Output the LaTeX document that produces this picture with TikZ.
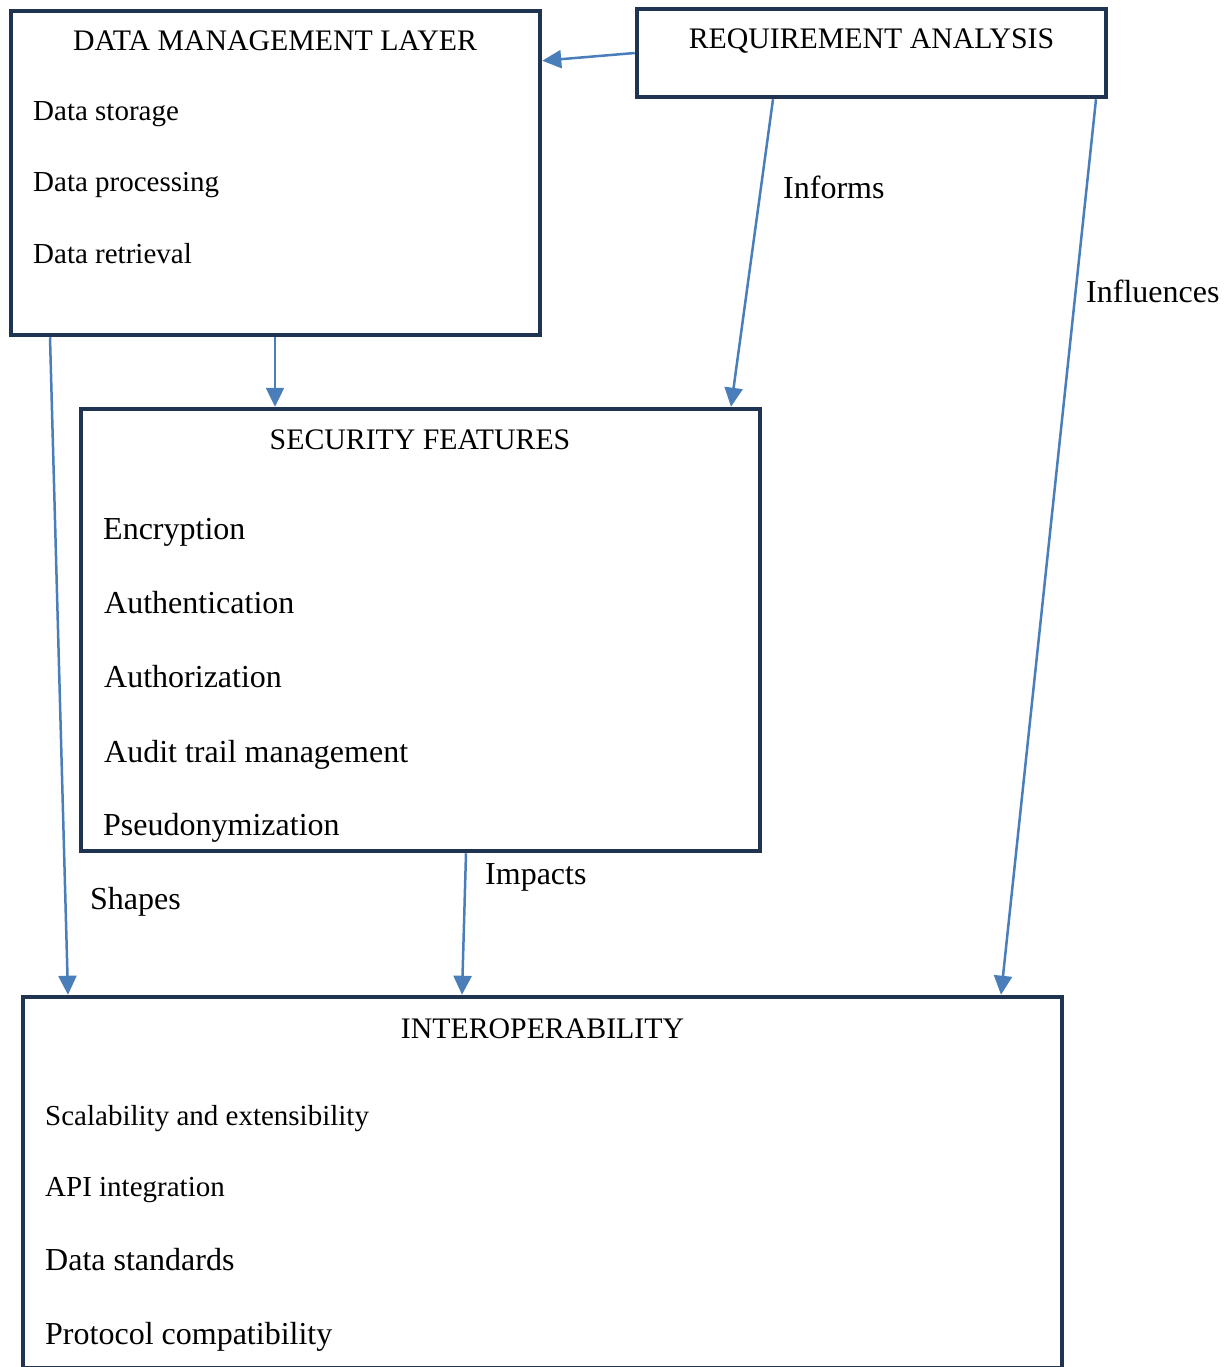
\documentclass[tikz,border=0pt]{standalone}
\usepackage{fontspec}
\setmainfont{Liberation Serif}
\usetikzlibrary{arrows.meta,calc}
\definecolor{boxline}{RGB}{31,52,80}
\definecolor{arrowblue}{RGB}{74,126,187}
\tikzset{
  panel/.style={draw=boxline, line width=4.5pt, rectangle, anchor=north west, inner sep=0pt},
  title/.style={anchor=base, inner sep=0pt, font=\fontsize{29.8}{35}\selectfont},
  itemS/.style={anchor=base west, inner sep=0pt, font=\fontsize{29}{34}\selectfont},
  itemL/.style={anchor=base west, inner sep=0pt, font=\fontsize{32}{38}\selectfont},
  link/.style={draw=arrowblue, line width=2.5pt, -{Triangle[length=19pt,width=18pt]}},
}
\begin{document}
\begin{tikzpicture}[x=1pt,y=-1pt]
\useasboundingbox (0,0) rectangle (1227,1367);

% boxes (placed by the outer corner of their frame)
\node[panel, minimum width=529pt, minimum height=324pt] (dml) at (8.75,8.75) {};
\node[panel, minimum width=469pt, minimum height=88pt] (req) at (634.75,6.75) {};
\node[panel, minimum width=679pt, minimum height=442pt] (sec) at (78.75,406.75) {};
\node[panel, minimum width=1039pt, minimum height=371.5pt] (int) at (20.75,994.75) {};

% data management layer
\node[title] (dmlT) at (275,51) {DATA MANAGEMENT LAYER};
\node[itemS] (dml1) at (33,121) {Data storage};
\node[itemS] (dml2) at (33,192) {Data processing};
\node[itemS] (dml3) at (33,263) {Data retrieval};

% requirement analysis
\node[title] (reqT) at (871.5,49) {REQUIREMENT ANALYSIS};

% security features
\node[title] (secT) at (420,449) {SECURITY FEATURES};
\node[itemL] (sec1) at (103,539) {Encryption};
\node[itemL] (sec2) at (104,613) {Authentication};
\node[itemL] (sec3) at (104,687) {Authorization};
\node[itemL] (sec4) at (104,762) {Audit trail management};
\node[itemL] (sec5) at (103,835) {Pseudonymization};

% interoperability
\node[title] (intT) at (542.5,1038) {INTEROPERABILITY};
\node[itemS] (int1) at (45,1125) {Scalability and extensibility};
\node[itemS] (int2) at (45,1196) {API integration};
\node[itemL] (int3) at (45,1270) {Data standards};
\node[itemL] (int4) at (45,1344) {Protocol compatibility};

% connector labels
\node[itemL] (lInforms) at (783,198) {Informs};
\node[itemL] (lInfluences) at (1086,302) {Influences};
\node[itemL] (lShapes) at (90,909) {Shapes};
\node[itemL] (lImpacts) at (485,884) {Impacts};

% connectors
\draw[link] (req.west) -- ($(dml.north east)+(0,52)$);
\draw[link] ($(dml.south west)+(266.25,0)$) -- ($(sec.north west)+(196.25,0)$);
\draw[link] ($(req.south west)+(138.25,0)$) -- ($(sec.north west)+(652.25,0)$);
\draw[link] ($(req.south west)+(461.25,0)$) -- ($(int.north west)+(980.25,0)$);
\draw[link] ($(dml.south west)+(41.25,0)$) -- ($(int.north west)+(47.25,0)$);
\draw[link] ($(sec.south west)+(387.25,0)$) -- ($(int.north west)+(441.25,0)$);
\end{tikzpicture}
\end{document}
